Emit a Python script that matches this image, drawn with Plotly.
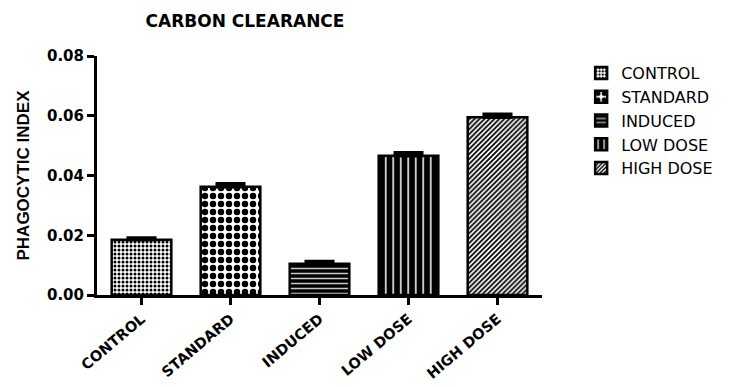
import plotly.graph_objects as go

# Phagocytic index per treatment group (mean and SEM)
groups = ["CONTROL", "STANDARD", "INDUCED", "LOW DOSE", "HIGH DOSE"]
means = [0.0185, 0.0362, 0.0105, 0.0466, 0.0595]
sem = [0.0006, 0.0010, 0.0007, 0.0010, 0.0010]
y_ticks = [0.00, 0.02, 0.04, 0.06, 0.08]

ARIAL = "Liberation Sans, Arial, sans-serif"
WIDE = "DejaVu Sans, Verdana, sans-serif"

# Fill pattern per group: (shape, fg, bg, size, solidity)
patterns = {
    "CONTROL": (".", "black", "white", 4, 0.45),
    "STANDARD": (".", "black", "white", 8, 0.5),
    "INDUCED": ("-", "#c8c8c8", "black", 5, 0.3),
    "LOW DOSE": ("|", "white", "black", 7.5, 0.2),
    "HIGH DOSE": ("/", "black", "white", 3.5, 0.5),
}

fig = go.Figure()
for g, m, e in zip(groups, means, sem):
    shape, fg, bg, size, sol = patterns[g]
    fig.add_trace(go.Bar(
        x=[g], y=[m], name=g, width=0.67,
        marker=dict(
            color=bg,
            line=dict(color="black", width=2.5),
            pattern=dict(shape=shape, fgcolor=fg, bgcolor=bg,
                         size=size, solidity=sol, fillmode="replace"),
        ),
        error_y=dict(type="data", symmetric=False, array=[e], arrayminus=[0],
                     color="black", thickness=3.5, width=15),
    ))

fig.update_layout(
    width=753, height=387,
    margin=dict(l=97, r=211, t=56, b=92),
    paper_bgcolor="white", plot_bgcolor="white",
    barmode="overlay",
    font=dict(family=ARIAL, color="black"),
    title=dict(text="CARBON CLEARANCE", x=(245 - 97) / 445, xref="paper",
               xanchor="center", y=1 - 21 / 387, yref="container", yanchor="middle",
               font=dict(family=WIDE, size=17, weight="bold", color="black")),
    legend=dict(x=1.088, y=1.0, xanchor="left", yanchor="top",
                font=dict(family=WIDE, size=16, color="black"),
                bgcolor="rgba(0,0,0,0)", traceorder="normal"),
    showlegend=True,
)

fig.update_xaxes(
    type="category", categoryorder="array", categoryarray=groups,
    range=[-0.5, 4.5], automargin=False,
    showline=True, linecolor="black", linewidth=3,
    ticks="outside", ticklen=7, tickwidth=2.5, tickcolor="black",
    tickangle=-40, tickfont=dict(family=WIDE, size=14.5, weight="bold"),
    showgrid=False, zeroline=False,
)
fig.update_yaxes(
    range=[0, 0.08], tickvals=y_ticks, tickformat=".2f", automargin=False,
    showline=True, linecolor="black", linewidth=3,
    ticks="outside", ticklen=7, tickwidth=2.5, tickcolor="black",
    tickfont=dict(family=WIDE, size=15, weight="bold"),
    title=dict(text="PHAGOCYTIC INDEX", standoff=14,
               font=dict(family=ARIAL, size=17, weight="bold")),
    showgrid=False, zeroline=False,
)

fig.write_html("out.html")
